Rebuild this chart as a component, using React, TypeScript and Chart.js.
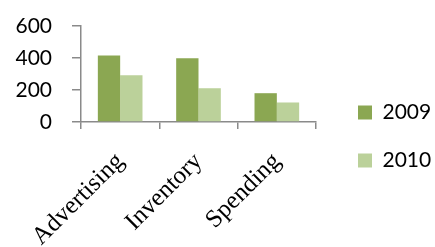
import React, { useEffect, useRef } from "react";
import { Chart, registerables } from "chart.js";
Chart.register(...registerables);

const categories = ["Advertising", "Inventory", "Spending"];
const seriesLabels = ["2009", "2010"];
const series2009 = [416, 399, 180];
const series2010 = [292, 211, 122];
const yTicks = [0, 200, 400, 600];

const AXIS = "#8a8a8a";

export default function App() {
  const ref = useRef<HTMLCanvasElement>(null);
  useEffect(() => {
    const chart = new Chart(ref.current!, {
      type: "bar",
      data: {
        labels: categories,
        datasets: [
          { label: seriesLabels[0], data: series2009, backgroundColor: "#8BA752", borderWidth: 0 },
          { label: seriesLabels[1], data: series2010, backgroundColor: "#BBD19A", borderWidth: 0 },
        ],
      },
      options: {
        animation: false,
        responsive: false,
        devicePixelRatio: 1,
        layout: { padding: { top: 26, left: 0, right: 0, bottom: 0 } },
        plugins: {
          legend: {
            position: "right",
            maxWidth: 104,
            labels: {
              boxWidth: 14,
              boxHeight: 14,
              padding: 27,
              color: "#000",
              font: { family: "Lato", size: 21 },
            },
          },
          tooltip: { enabled: false },
        },
        datasets: { bar: { categoryPercentage: 0.57, barPercentage: 1 } },
        scales: {
          x: {
            grid: { display: true, drawOnChartArea: false, drawTicks: true, tickLength: 7, color: AXIS, lineWidth: 1.5, offset: true },
            border: { color: AXIS, width: 1.5 },
            ticks: {
              minRotation: 45,
              maxRotation: 45,
              autoSkip: false,
              padding: 18,
              color: "#000",
              font: { family: "Liberation Serif", size: 25 },
            },
            afterFit: (s: any) => { s.height = 125; },
          },
          y: {
            min: 0,
            max: 600,
            afterBuildTicks: (s: any) => { s.ticks = yTicks.map((v) => ({ value: v })); },
            ticks: { padding: 20, color: "#000", font: { family: "Lato", size: 21 } },
            grid: { drawOnChartArea: false, drawTicks: true, tickLength: 9, color: AXIS, lineWidth: 1.5 },
            border: { color: AXIS, width: 1.5 },
            afterFit: (s: any) => { s.width = 81; s.paddingTop = 0; s.paddingBottom = 0; },
          },
          pad: {
            position: "right",
            display: true,
            grid: { display: false },
            ticks: { display: false },
            border: { display: false },
            afterFit: (s: any) => { s.width = 15; },
          },
        },
      } as any,
    });
    return () => chart.destroy();
  }, []);
  return (
    <div style={{ position: "absolute", left: 0, top: 0, width: 435, height: 247 }}>
      <canvas ref={ref} width={435} height={247} style={{ width: 435, height: 247 }} />
    </div>
  );
}
